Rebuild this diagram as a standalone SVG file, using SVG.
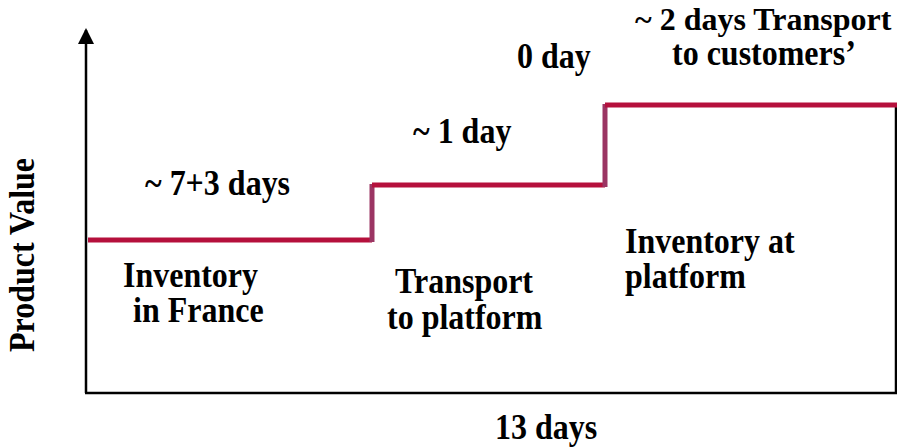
<svg xmlns="http://www.w3.org/2000/svg" width="897" height="448" viewBox="0 0 897 448">
<style>
text{font-family:"Liberation Serif","Times New Roman",serif;font-weight:bold;font-size:32px;fill:#000}
.ax{stroke:#000;stroke-width:2.5;fill:none}
.h{stroke:#b5103c;stroke-width:5;fill:none}
.v{stroke:#9b3563;stroke-width:5;fill:none}
</style>
<g id="connectors">
<line class="ax" x1="86" y1="393" x2="86" y2="30"/>
<path d="M78,44 L86,28 L94,44 Z" fill="#000"/>
<line class="ax" x1="85" y1="393" x2="897" y2="393"/>
<line class="ax" x1="896" y1="105" x2="896" y2="394"/>
<line class="h" x1="88" y1="240" x2="372" y2="240"/>
<line class="v" x1="372" y1="242" x2="372" y2="184"/>
<line class="h" x1="372" y1="185" x2="605" y2="185"/>
<line class="v" x1="605" y1="187" x2="605" y2="104"/>
<line class="h" x1="605" y1="105" x2="897" y2="105"/>
</g>
<g id="axis-y-label"><text transform="translate(34,255) rotate(-90) scale(1,1.1)" text-anchor="middle">Product Value</text></g>
<g id="axis-x-label"><text transform="translate(546,439) scale(1,1.1)" text-anchor="middle">13 days</text></g>
<g id="seg1-duration"><text transform="translate(145,195) scale(1,1.1)">~ 7+3 days</text></g>
<g id="seg1"><text transform="translate(123,287) scale(1,1.1)">Inventory</text><text transform="translate(133,322) scale(1,1.1)">in France</text></g>
<g id="seg2-duration"><text transform="translate(413,143) scale(1,1.1)">~ 1 day</text></g>
<g id="seg2"><text transform="translate(395,293) scale(1,1.1)">Transport</text><text transform="translate(387,329) scale(1,1.1)">to platform</text></g>
<g id="seg3-duration"><text transform="translate(517,68) scale(1,1.1)">0 day</text></g>
<g id="seg3"><text transform="translate(625,253) scale(1,1.1)">Inventory at</text><text transform="translate(625,288) scale(1,1.1)">platform</text></g>
<g id="seg4"><text x="635" y="30">~ 2 days Transport</text><text transform="translate(672,65) scale(1,1.1)">to customers’</text></g>
</svg>
